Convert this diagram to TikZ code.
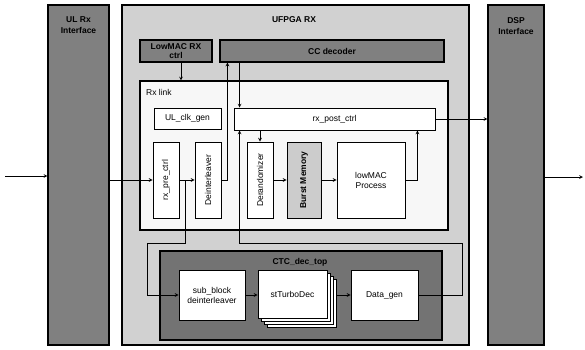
\documentclass[tikz,border=0pt]{standalone}
\usepackage{fontspec}
\setmainfont{Liberation Sans}
\begin{document}
\begin{tikzpicture}[x=1pt, y=-1pt, >=stealth,
    panel/.style={draw, line width=1.1pt, inner sep=0pt},
    block/.style={draw, line width=0.9pt, fill=white, inner sep=0pt, align=center, font=\fontsize{8.5}{10}\selectfont},
    title/.style={inner sep=0pt, align=center, font=\fontsize{8.5}{11}\selectfont\bfseries},
    link/.style={->, line width=0.7pt}]

            \useasboundingbox (0,0) rectangle (585,349);

            \node (ul-rx) at (78.5, 175) [panel, fill=black!50, minimum width=61pt, minimum height=340pt] {};
            \node (ufpga) at (295.5, 175) [panel, fill=black!18, minimum width=347pt, minimum height=340pt] {};
            \node (dsp) at (516, 175) [panel, fill=black!50, minimum width=56pt, minimum height=340pt] {};

            \node (ul-rx-title) at (78.5, 25) [title] {UL Rx\\Interface};
            \node (ufpga-title) at (294, 20) [title] {UFPGA RX};
            \node (dsp-title) at (516, 26) [title] {DSP\\Interface};

            \node (lowmac-ctrl) at (176, 51) [panel, fill=black!50, minimum width=72pt, minimum height=22pt, title, font=\fontsize{8.5}{9.5}\selectfont\bfseries] {LowMAC RX\\ctrl};
            \node (cc-dec) at (332, 51) [panel, fill=black!50, minimum width=224pt, minimum height=22pt, title] {CC decoder};

            \node (rx-link) at (294, 155.5) [panel, fill=black!3, minimum width=308pt, minimum height=149pt] {};
            \node (rx-link-title) at (146, 92) [anchor=west, inner sep=0pt, font=\fontsize{8.5}{10}\selectfont] {Rx link};

            \node (clk-gen) at (187.5, 118.5) [block, minimum width=67pt, minimum height=21pt] {UL\_clk\_gen};
            \node (post-ctrl) at (334.5, 119) [block, minimum width=201pt, minimum height=22pt] {rx\_post\_ctrl};

            \node (pre-ctrl) at (166, 180) [block, minimum width=26pt, minimum height=76pt] {};
            \node (deint) at (208, 180) [block, minimum width=26pt, minimum height=76pt] {};
            \node (derand) at (260, 180) [block, minimum width=26pt, minimum height=76pt] {};
            \node (burst) at (304, 180) [block, fill=black!20, minimum width=34pt, minimum height=76pt] {};
            \node (lowmac-proc) at (371, 180) [block, minimum width=68pt, minimum height=76pt] {lowMAC\\Process};

            \node at (pre-ctrl) [rotate=90, inner sep=0pt, font=\fontsize{8.5}{10}\selectfont] {rx\_pre\_ctrl};
            \node at (deint) [rotate=90, inner sep=0pt, font=\fontsize{8.5}{10}\selectfont] {Deinterleaver};
            \node at (derand) [rotate=90, inner sep=0pt, font=\fontsize{8.5}{10}\selectfont] {Derandomizer};
            \node at (burst) [rotate=90, inner sep=0pt, font=\fontsize{8.5}{10}\selectfont\bfseries] {Burst Memory};

            \node (ctc) at (301, 295.5) [panel, fill=black!55, minimum width=282pt, minimum height=89pt] {};
            \node (ctc-title) at (300, 262) [title] {CTC\_dec\_top};

            \node (sub-block) at (212, 295) [block, minimum width=66pt, minimum height=50pt] {sub\_block\\deinterleaver};
            \node (turbo-3) at (301.5, 303) [block, minimum width=69pt, minimum height=48pt] {};
            \node (turbo-2) at (298.5, 300) [block, minimum width=69pt, minimum height=48pt] {};
            \node (turbo-1) at (295.5, 297) [block, minimum width=69pt, minimum height=48pt] {};
            \node (turbo) at (292.5, 294) [block, minimum width=69pt, minimum height=48pt] {stTurboDec};
            \node (data-gen) at (384.5, 295) [block, minimum width=67pt, minimum height=50pt] {Data\_gen};

            \coordinate (in) at (5, 176);
            \coordinate (out) at (583, 177);
            \coordinate (split) at (185, 180);
            \coordinate (split-turn) at (147, 243);
            \coordinate (dg-turn) at (462, 243);

            \draw[link] (in) -- (ul-rx.west |- in);
            \draw[link] (ul-rx.east |- pre-ctrl) -- (pre-ctrl.west);
            \draw[link] (pre-ctrl.east) -- (deint.west);
            \draw[link] (split) |- (split-turn) |- (sub-block.west);
            \draw[link] (deint.east) -| ([xshift=8pt]cc-dec.south west);
            \draw[link] ([xshift=6pt]post-ctrl.north west |- cc-dec.south) -- ([xshift=6pt]post-ctrl.north west);
            \draw[link] ([xshift=5pt]lowmac-ctrl.south) -- ([xshift=5pt]lowmac-ctrl.south |- rx-link.north);
            \draw[link] (post-ctrl.south -| derand) -- (derand.north);

            \draw[link] (derand.east) -- (burst.west);
            \draw[link] (burst.east) -- (lowmac-proc.west);
            \draw[link] (lowmac-proc.east) -| ([xshift=-18pt]post-ctrl.south east);
            \draw[link] (post-ctrl.east) -- (post-ctrl.east -| dsp.west);
            \draw[link] (dsp.east |- out) -- (out);

            \draw[link] (sub-block.east) -- (turbo.west |- sub-block);
            \draw[link] (turbo-3.east |- data-gen) -- (data-gen.west);
            \draw[link] (data-gen.east) -| (dg-turn) -| ([xshift=6pt]post-ctrl.south west);

\end{tikzpicture}
\end{document}
